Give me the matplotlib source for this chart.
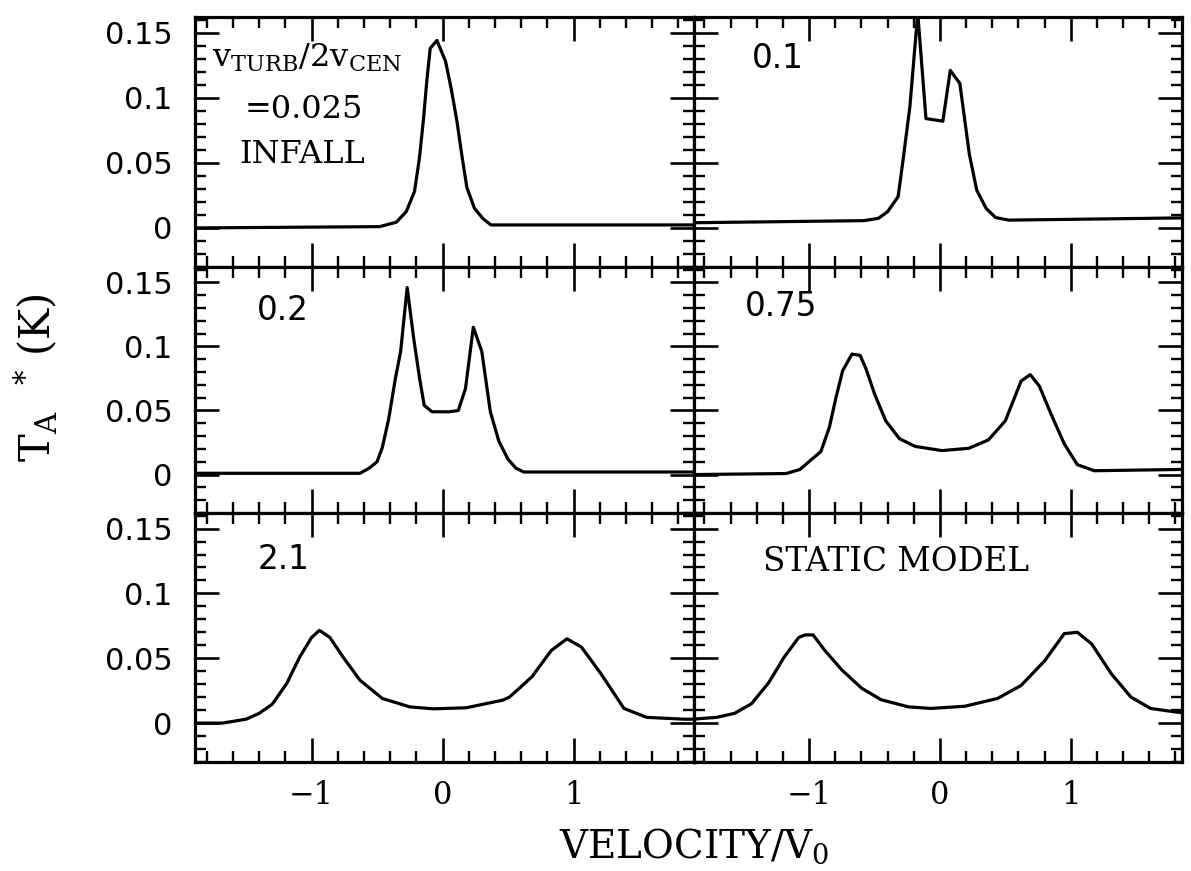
import numpy as np
import matplotlib
matplotlib.use('Agg')
import matplotlib.pyplot as plt
from matplotlib.ticker import MultipleLocator, FixedLocator, FixedFormatter

plt.rcParams['mathtext.fontset'] = 'dejavuserif'

# ---- data (velocity / V0 , T_A* in K) ----
# top left: v_turb/2v_cen = 0.025, infall
x_025 = [-1.89, -0.48, -0.353, -0.277, -0.214, -0.176, -0.145, -0.12, -0.094, -0.043,
         0.023, 0.066, 0.11, 0.15, 0.186, 0.244, 0.31, 0.37, 0.59, 1.92]
t_025 = [0.0, 0.001, 0.0044, 0.0125, 0.028, 0.054, 0.084, 0.113, 0.138, 0.144,
         0.128, 0.107, 0.082, 0.054, 0.031, 0.015, 0.007, 0.0023, 0.0023, 0.0023]

# top right: 0.1
x_01 = [-1.89, -0.58, -0.47, -0.40, -0.32, -0.285, -0.23, -0.17, -0.107, 0.022,
        0.079, 0.152, 0.224, 0.281, 0.353, 0.425, 0.526, 1.85]
t_01 = [0.004, 0.0056, 0.0074, 0.0125, 0.024, 0.050, 0.093, 0.165, 0.084, 0.082,
        0.121, 0.111, 0.057, 0.029, 0.015, 0.008, 0.006, 0.0077]

# middle left: 0.2
x_02 = [-1.89, -0.63, -0.56, -0.50, -0.46, -0.41, -0.36, -0.32, -0.27, -0.22, -0.175,
        -0.14, -0.08, 0.05, 0.12, 0.175, 0.235, 0.30, 0.365, 0.43, 0.50, 0.56, 0.62, 1.92]
t_02 = [0.001, 0.001, 0.005, 0.010, 0.021, 0.044, 0.075, 0.096, 0.146, 0.106, 0.075,
        0.054, 0.049, 0.049, 0.050, 0.067, 0.115, 0.096, 0.049, 0.026, 0.012, 0.005, 0.002, 0.002]

# middle right: 0.75
x_075 = [-1.88, -1.175, -1.07, -0.985, -0.91, -0.845, -0.795, -0.744, -0.673, -0.61,
         -0.567, -0.50, -0.415, -0.31, -0.19, 0.015, 0.22, 0.37, 0.50, 0.62, 0.69,
         0.76, 0.85, 0.95, 1.05, 1.18, 1.85]
t_075 = [0.0, 0.0008, 0.004, 0.0115, 0.018, 0.037, 0.060, 0.081, 0.094, 0.093,
         0.083, 0.063, 0.042, 0.028, 0.022, 0.0187, 0.0205, 0.027, 0.042, 0.073, 0.078,
         0.069, 0.047, 0.024, 0.0077, 0.003, 0.004]

# bottom left: 2.1
x_21 = [-1.89, -1.68, -1.50, -1.40, -1.30, -1.19, -1.09, -1.00, -0.94, -0.86, -0.76,
        -0.63, -0.46, -0.25, -0.07, 0.18, 0.46, 0.51, 0.61, 0.685, 0.83, 0.95, 1.06,
        1.21, 1.385, 1.56, 1.85, 1.92]
t_21 = [0.0, 0.0, 0.003, 0.0075, 0.0146, 0.0305, 0.051, 0.066, 0.0715, 0.066, 0.051,
        0.033, 0.019, 0.0125, 0.011, 0.0118, 0.0177, 0.020, 0.029, 0.036, 0.056, 0.065, 0.0587,
        0.038, 0.0113, 0.0044, 0.003, 0.003]

# bottom right: static model
x_st = [-1.89, -1.71, -1.57, -1.44, -1.31, -1.19, -1.08, -1.03, -0.97, -0.88, -0.75,
        -0.60, -0.45, -0.24, -0.07, 0.19, 0.44, 0.62, 0.80, 0.95, 1.05, 1.16, 1.31,
        1.46, 1.61, 1.79, 1.88]
t_st = [0.003, 0.0044, 0.0075, 0.015, 0.031, 0.051, 0.066, 0.068, 0.068, 0.056, 0.041,
        0.027, 0.018, 0.0125, 0.0113, 0.013, 0.019, 0.029, 0.048, 0.069, 0.070, 0.061, 0.038,
        0.020, 0.0113, 0.0087, 0.0077]

panels = [
    (x_025, t_025, None),
    (x_01, t_01, '0.1'),
    (x_02, t_02, '0.2'),
    (x_075, t_075, '0.75'),
    (x_21, t_21, '2.1'),
    (x_st, t_st, 'STATIC MODEL'),
]
ytick_vals = [0, 0.05, 0.1, 0.15]
ytick_labs = ['0', '0.05', '0.1', '0.15']

# ---- layout (pixels of the 1191x871 page) ----
W, H = 1191, 871
col_px = [195, 694, 1182]
row_px = [17, 267, 513, 762]
xlims = [(-1.89, 1.92), (-1.88, 1.85)]
ylim = (-0.030, 0.162)

# label positions in axes coords
lab_pos = {'0.1': (0.119, 0.796), '0.2': (0.124, 0.785), '0.75': (0.105, 0.80),
           '2.1': (0.126, 0.775), 'STATIC MODEL': (0.141, 0.767)}

fig = plt.figure(figsize=(W / 100, H / 100), dpi=100)

for i, (xv, tv, lab) in enumerate(panels):
    r, c = divmod(i, 2)
    l = col_px[c] / W
    w = (col_px[c + 1] - col_px[c]) / W
    b = 1 - row_px[r + 1] / H
    h = (row_px[r + 1] - row_px[r]) / H
    ax = fig.add_axes([l, b, w, h])
    ax.plot(xv, tv, color='black', lw=2.3, solid_joinstyle='round')
    ax.set_xlim(*xlims[c])
    ax.set_ylim(*ylim)

    ax.xaxis.set_major_locator(MultipleLocator(1))
    ax.xaxis.set_minor_locator(MultipleLocator(0.2))
    ax.yaxis.set_major_locator(FixedLocator(ytick_vals))
    ax.yaxis.set_major_formatter(FixedFormatter(ytick_labs))
    ax.yaxis.set_minor_locator(MultipleLocator(0.01))
    ax.tick_params(which='both', direction='in', top=True, right=True)
    ax.tick_params(which='major', length=17, width=1.9)
    ax.tick_params(which='minor', length=8, width=1.7)
    ax.tick_params(axis='y', labelsize=22, pad=16, labelfontfamily='DejaVu Sans')
    ax.tick_params(axis='x', labelsize=22, pad=13, labelfontfamily='DejaVu Serif')
    for sp in ax.spines.values():
        sp.set_linewidth(2.3)
    if c == 1:
        ax.tick_params(labelleft=False)
    if r < 2:
        ax.tick_params(labelbottom=False)

    if lab is None:
        ax.text(0.224, 0.80, r'v$_{\rm TURB}$/2v$_{\rm CEN}$', transform=ax.transAxes,
                ha='center', va='baseline', fontsize=23, family='DejaVu Serif')
        ax.text(0.219, 0.596, '=0.025', transform=ax.transAxes,
                ha='center', va='baseline', fontsize=23, family='DejaVu Serif')
        ax.text(0.214, 0.416, 'INFALL', transform=ax.transAxes,
                ha='center', va='baseline', fontsize=23, family='DejaVu Serif')
    elif lab == 'STATIC MODEL':
        px, py = lab_pos[lab]
        ax.text(px, py, lab, transform=ax.transAxes, ha='left', va='baseline',
                fontsize=23.5, family='DejaVu Serif')
    else:
        px, py = lab_pos[lab]
        ax.text(px, py, lab, transform=ax.transAxes, ha='left', va='baseline',
                fontsize=23.5, family='DejaVu Sans')

fig.text(694 / W, 1 - 858 / H, r'VELOCITY/V$_0$', ha='center', va='baseline',
         fontsize=28, family='DejaVu Serif')
fig.text(36 / W, 1 - 378 / H, r'T$_{\rm A}$  $^{*}$ (K)', rotation=90, ha='center',
         va='center', fontsize=30, family='DejaVu Serif')

fig.savefig('out.png', dpi=100)
